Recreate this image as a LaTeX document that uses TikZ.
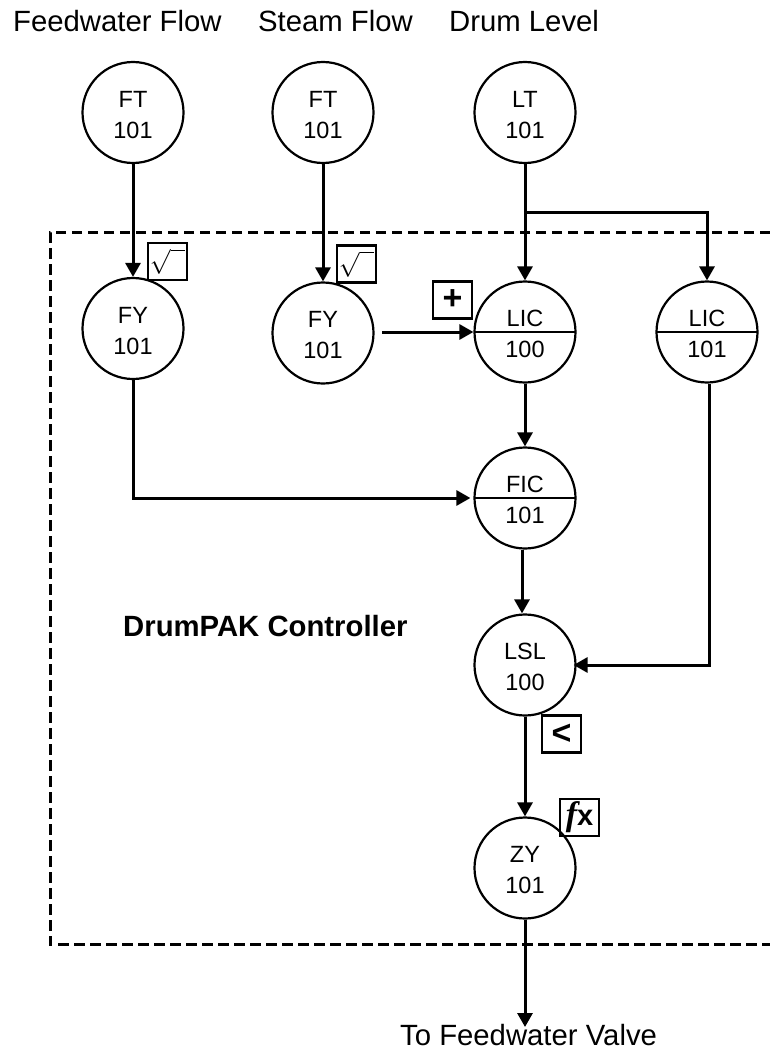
\documentclass[tikz,border=0pt]{standalone}
\usepackage{fontspec}
\setmainfont{Liberation Sans}
\newfontfamily\fxfont{Liberation Serif}
\usetikzlibrary{arrows.meta}
\newcommand{\tagtext}[2]{#1\rule{0pt}{21pt}\\#2}
\newcommand{\rootsign}{\mdseries\fontsize{26}{28}\selectfont$\sqrt{\phantom{n}}$}
\tikzset{
  tag/.style={draw, circle, line width=2.2pt, minimum size=101pt, inner sep=0pt, align=center, font=\fontsize{23.5}{31}\selectfont},
  splittag/.style={tag, path picture={\draw[line width=2.2pt] (path picture bounding box.west) -- (path picture bounding box.east);}},
  calcbox/.style={draw, line width=2.2pt, minimum width=39pt, minimum height=37pt, inner sep=0pt, font=\fontsize{34}{36}\selectfont\bfseries},
  flow/.style={line width=3pt, -{Triangle[length=14pt,width=15pt]}},
  caption/.style={font=\fontsize{29.3}{32}\selectfont, inner sep=0pt, anchor=base west}
}
\begin{document}
\begin{tikzpicture}[x=1pt, y=-1pt]
\useasboundingbox (0,0) rectangle (770,1051);

% Controller boundary
\draw[line width=3pt, dash pattern=on 10.5pt off 5.5pt] (770,232) -- (50,232) -- (50,944) -- (770,944);

% Signal names
\node[caption] (feedname) at (13,32) {Feedwater Flow};
\node[caption] (steamname) at (258,32) {Steam Flow};
\node[caption] (levelname) at (449,32) {Drum Level};

% Transmitters
\node[tag] (fta) at (133,112.5) {\tagtext{FT}{101}};
\node[tag] (ftb) at (323,112.5) {\tagtext{FT}{101}};
\node[tag] (lt) at (525,112.5) {\tagtext{LT}{101}};

% Square root relays
\node[tag] (fya) at (133,328.5) {\tagtext{FY}{101}};
\node[tag] (fyb) at (323,333) {\tagtext{FY}{101}};
\node[calcbox] (roota) at (167.5,261.5) {\rootsign};
\node[calcbox] (rootb) at (356.5,264) {\rootsign};

% Level controllers
\node[splittag] (lica) at (525,332) {\tagtext{LIC}{100}};
\node[splittag] (licb) at (707,332) {\tagtext{LIC}{101}};
\node[calcbox] (plus) at (452.5,300) {+};

% Flow controller
\node[splittag] (fic) at (525,498) {\tagtext{FIC}{101}};

% Low select
\node[tag] (lsl) at (525,665) {\tagtext{LSL}{100}};
\node[calcbox] (less) at (561.5,734) {<};

% Output
\node[tag] (zy) at (525,868) {\tagtext{ZY}{101}};
\node[calcbox] (func) at (579.5,817.5) {{\fxfont\itshape f}{\fontsize{29}{30}\selectfont x}};
\node[caption] (valve) at (400,1045) {To Feedwater Valve};

\node[caption, font=\fontsize{29.3}{32}\selectfont\bfseries] (ctrl) at (123,636) {DrumPAK Controller};

% Signals
\coordinate (split) at (525,212);
\coordinate (sumin) at (382,332);
\coordinate (valvein) at (525,1027);
\draw[flow] (fta) -- (fya);
\draw[flow] (ftb) -- (fyb);
\draw[flow] (lt) -- (lica);
\draw[flow] (split) -| (licb);
\draw[flow] (sumin) -- (lica);
\draw[flow] (lica) -- (fic);
\draw[flow, shorten >=3pt] (fya) |- (fic);
\draw[flow] ([xshift=-3pt]fic.south) -- ([xshift=-3pt]lsl.north);
\draw[flow, shorten >=-3pt] ([xshift=2pt]licb.south) |- (lsl);
\draw[flow] (lsl) -- (zy);
\draw[flow] (zy) -- (valvein);

\end{tikzpicture}
\end{document}
